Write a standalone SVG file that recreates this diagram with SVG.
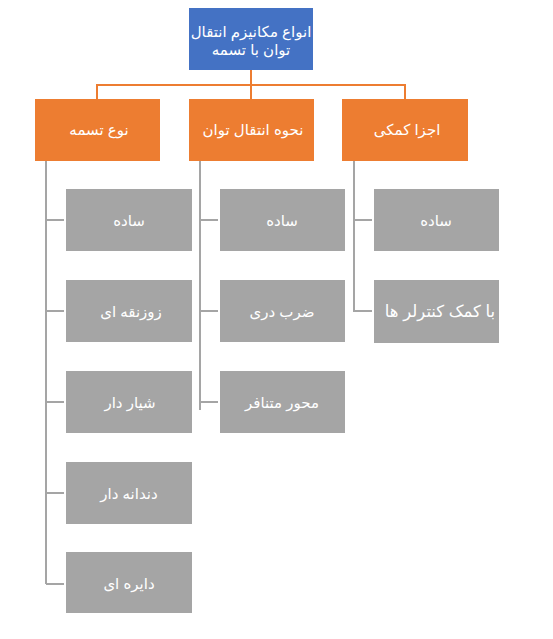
<svg xmlns="http://www.w3.org/2000/svg" width="553" height="639" viewBox="0 0 553 639">
<style>
text{font-family:"Liberation Sans","DejaVu Sans",sans-serif;fill:#fff;text-anchor:middle;direction:rtl;dominant-baseline:central}
.blue{fill:#4472C4}
.orange{fill:#ED7D31}
.gray{fill:#A5A5A5}
.t1{font-size:15px}
.t2{font-size:15px}
.t3{font-size:15px}
.t4{font-size:16.5px}
.co{stroke:#ED7D31;stroke-width:2;fill:none}
.cg{stroke:#A5A5A5;stroke-width:2;fill:none}
</style>
<rect width="553" height="639" fill="#fff"/>
<g id="connectors">
<path class="co" d="M251 70V85M97 85H405M97 84V99M251 85V99M405 84V99"/>
<path class="cg" d="M46 161V584M46 220H64M46 311H64M46 402H64M46 493H64M46 584H64"/>
<path class="cg" d="M200 161V410M200 220H218M200 311H218M200 402H218"/>
<path class="cg" d="M354 161V312M354 220H372M354 311H372"/>
</g>
<g id="root"><rect class="blue" x="189" y="8" width="124" height="62"/><text class="t1" x="251" y="31">انواع مکانیزم انتقال</text><text class="t1" x="251" y="49">توان با تسمه</text></g>
<g id="n1"><rect class="orange" x="35" y="99" width="125" height="62"/><text class="t2" x="99" y="129">نوع تسمه</text></g>
<g id="n2"><rect class="orange" x="189" y="99" width="125" height="62"/><text class="t2" x="253" y="129">نحوه انتقال توان</text></g>
<g id="n3"><rect class="orange" x="342" y="99" width="126" height="62"/><text class="t2" x="407" y="129">اجزا کمکی</text></g>
<g id="n1a"><rect class="gray" x="66" y="189" width="126" height="62"/><text class="t3" x="129" y="220">ساده</text></g>
<g id="n1b"><rect class="gray" x="66" y="280" width="126" height="62"/><text class="t3" x="131" y="311">زوزنقه ای</text></g>
<g id="n1c"><rect class="gray" x="66" y="371" width="126" height="62"/><text class="t3" x="130" y="402">شیار دار</text></g>
<g id="n1d"><rect class="gray" x="66" y="462" width="126" height="62"/><text class="t3" x="129" y="493">دندانه دار</text></g>
<g id="n1e"><rect class="gray" x="66" y="552" width="126" height="61"/><text class="t3" x="129" y="583">دایره ای</text></g>
<g id="n2a"><rect class="gray" x="220" y="189" width="125" height="62"/><text class="t3" x="282" y="220">ساده</text></g>
<g id="n2b"><rect class="gray" x="220" y="280" width="125" height="62"/><text class="t3" x="282" y="311">ضرب دری</text></g>
<g id="n2c"><rect class="gray" x="220" y="371" width="125" height="62"/><text class="t3" x="282" y="402">محور متنافر</text></g>
<g id="n3a"><rect class="gray" x="374" y="189" width="125" height="62"/><text class="t3" x="436" y="220">ساده</text></g>
<g id="n3b"><rect class="gray" x="374" y="280" width="125" height="63"/><text class="t4" x="440" y="311">با کمک کنترلر ها</text></g>
</svg>
